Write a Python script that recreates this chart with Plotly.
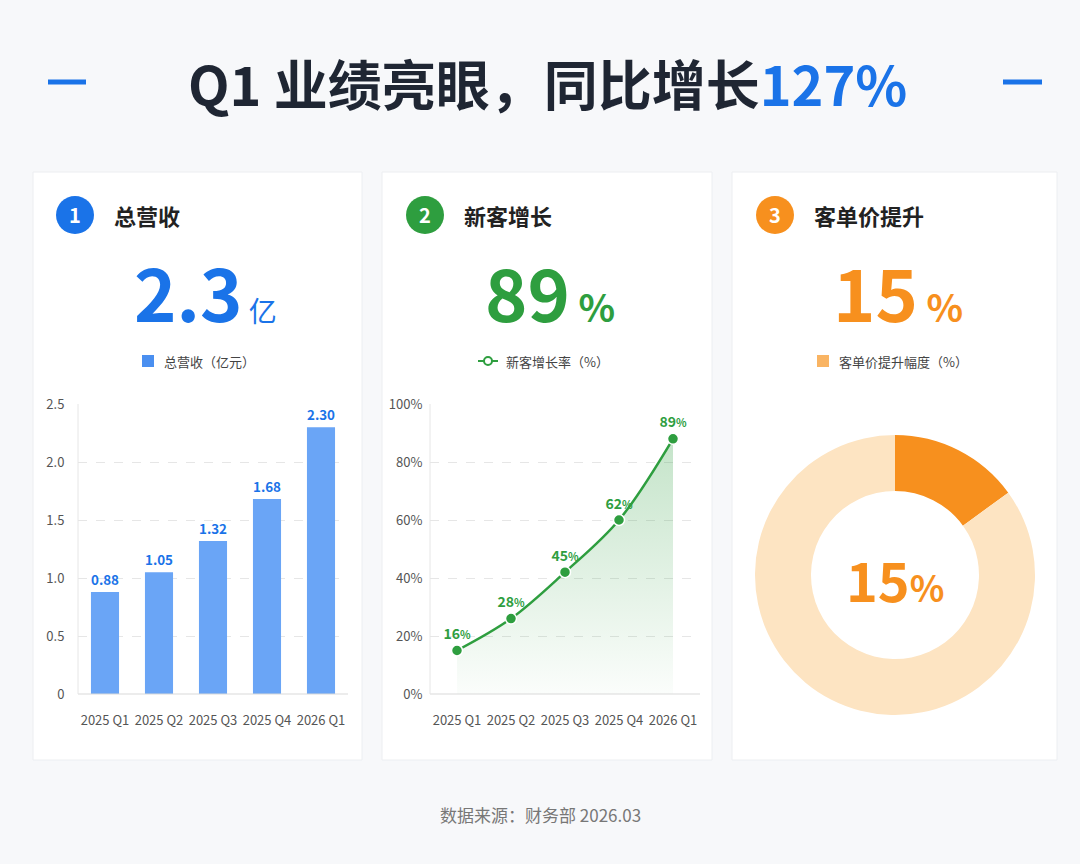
import plotly.graph_objects as go

W, H = 1080, 864
FONT = "Noto Sans CJK SC"

quarters = ["2025 Q1", "2025 Q2", "2025 Q3", "2025 Q4", "2026 Q1"]
revenue = [0.88, 1.05, 1.32, 1.68, 2.30]
revenue_ticks = [0, 0.5, 1.0, 1.5, 2.0, 2.5]
revenue_ticktext = ["0", "0.5", "1.0", "1.5", "2.0", "2.5"]
new_cust = [15, 26, 42, 60, 88]
new_cust_labels = ["16", "28", "45", "62", "89"]
pct_ticks = [0, 20, 40, 60, 80, 100]
pct_ticktext = ["0%", "20%", "40%", "60%", "80%", "100%"]
aov_share = [15, 85]

def px(x): return x / W
def py(y): return 1 - y / H

fig = go.Figure()

fig.add_trace(go.Bar(x=quarters, y=revenue, xaxis="x", yaxis="y",
    marker=dict(color="#6aa5f6", line=dict(width=0)), width=0.52,
    text=[f"<b>{v:.2f}</b>" for v in revenue], textposition="outside",
    textfont=dict(color="#1a73e8", size=14, family=FONT), cliponaxis=False,
    hoverinfo="skip", showlegend=False))

fig.add_trace(go.Scatter(x=quarters, y=new_cust, xaxis="x2", yaxis="y2",
    mode="lines+markers+text", line=dict(color="#2e9e3f", width=2.5, shape="spline"),
    marker=dict(size=11, color="#2e9e3f", line=dict(color="white", width=1.5)),
    fill="tozeroy",
    fillgradient=dict(type="vertical", colorscale=[[0, "rgba(46,158,63,0.02)"], [1, "rgba(46,158,63,0.28)"]]),
    text=[f"<b>{t}</b><span style='font-size:11px'><b>%</b></span>" for t in new_cust_labels],
    textposition="top center", textfont=dict(color="#2e9e3f", size=14, family=FONT),
    cliponaxis=False, hoverinfo="skip", showlegend=False))

fig.add_trace(go.Pie(values=aov_share, hole=0.6, sort=False, direction="clockwise",
    rotation=0, marker=dict(colors=["#f7901e", "#fde4c2"], line=dict(width=0)),
    textinfo="none", hoverinfo="skip", showlegend=False,
    domain=dict(x=[px(755), px(1035)], y=[py(715), py(435)])))

axis_common = dict(showline=False, zeroline=False, automargin=False,
                   tickfont=dict(size=13, color="#555", family=FONT), fixedrange=True,
                   ticks="outside", tickcolor="rgba(0,0,0,0)")
fig.update_layout(
    width=W, height=H, margin=dict(l=0, r=0, t=0, b=0, autoexpand=False),
    paper_bgcolor="#f7f8fa", plot_bgcolor="rgba(0,0,0,0)",
    font=dict(family=FONT),
    xaxis=dict(domain=[px(78), px(348)], anchor="y", range=[-0.5, 4.5], showgrid=False, ticklen=14, **axis_common),
    yaxis=dict(domain=[py(694), py(404)], anchor="x", range=[0, 2.5], tickvals=revenue_ticks, ticklen=10,
               ticktext=revenue_ticktext, showgrid=True, gridcolor="#e6e6e6", griddash="dash", **axis_common),
    xaxis2=dict(domain=[px(430), px(700)], anchor="y2", range=[-0.5, 4.5], showgrid=False, ticklen=14, **axis_common),
    yaxis2=dict(domain=[py(694), py(404)], anchor="x2", range=[0, 100], tickvals=pct_ticks, ticklen=4,
                ticktext=pct_ticktext, showgrid=True, gridcolor="#e6e6e6", griddash="dash", **axis_common),
)

shapes = []
for x0, x1 in [(33, 362), (382, 712), (732, 1057)]:
    shapes.append(dict(type="rect", xref="paper", yref="paper", x0=px(x0), x1=px(x1), y0=py(760), y1=py(172),
                       fillcolor="white", line=dict(color="#eceef1", width=1), layer="below"))
for xa, xb in [(78, 348), (430, 700)]:
    shapes.append(dict(type="line", xref="paper", yref="paper", x0=px(xa), x1=px(xb), y0=py(694), y1=py(694),
                       line=dict(color="#d9d9d9", width=1)))
    shapes.append(dict(type="line", xref="paper", yref="paper", x0=px(xa), x1=px(xa), y0=py(694), y1=py(404),
                       line=dict(color="#e6e6e6", width=1)))
for x0, x1 in [(48, 86), (1003, 1042)]:
    shapes.append(dict(type="line", xref="paper", yref="paper", x0=px(x0), x1=px(x1), y0=py(82), y1=py(82),
                       line=dict(color="#1a73e8", width=5)))
badge_cols = ["#1a73e8", "#2e9e3f", "#f7901e"]
badge_x = [75, 425, 775]
for cx, c in zip(badge_x, badge_cols):
    shapes.append(dict(type="circle", xref="paper", yref="paper", x0=px(cx - 19), x1=px(cx + 19),
                       y0=py(215 + 19), y1=py(215 - 19), fillcolor=c, line=dict(width=0)))
shapes.append(dict(type="rect", xref="paper", yref="paper", x0=px(142), x1=px(154), y0=py(367), y1=py(355),
                   fillcolor="#4a8ff0", line=dict(width=0)))
shapes.append(dict(type="line", xref="paper", yref="paper", x0=px(478), x1=px(498), y0=py(361), y1=py(361),
                   line=dict(color="#2e9e3f", width=2)))
shapes.append(dict(type="circle", xref="paper", yref="paper", x0=px(484), x1=px(492), y0=py(365), y1=py(357),
                   fillcolor="white", line=dict(color="#2e9e3f", width=2)))
shapes.append(dict(type="rect", xref="paper", yref="paper", x0=px(817), x1=px(829), y0=py(367), y1=py(355),
                   fillcolor="#f9b463", line=dict(width=0)))
fig.update_layout(shapes=shapes)

ann = []
def T(x, y, text, size, color, xanchor="center"):
    ann.append(dict(x=px(x), y=py(y), xref="paper", yref="paper", text=text, showarrow=False,
                    xanchor=xanchor, yanchor="middle", font=dict(size=size, color=color, family=FONT)))

T(547, 82, "<b>Q1 业绩亮眼，同比增长<span style='color:#1a73e8'>127%</span></b>", 54, "#1f2633")
for i, (cx, c) in enumerate(zip(badge_x, badge_cols)):
    T(cx, 215, f"<b>{i+1}</b>", 20, "white")
T(112, 215, "<b>总营收</b>", 22, "#222", "left")
T(462, 215, "<b>新客增长</b>", 22, "#222", "left")
T(812, 215, "<b>客单价提升</b>", 22, "#222", "left")
T(205, 290, "<b>2.3</b><span style='font-size:28px'> 亿</span>", 72, "#1a73e8")
T(550, 290, "<b>89</b><span style='font-size:38px'><b> %</b></span>", 72, "#2e9e3f")
T(898, 290, "<b>15</b><span style='font-size:38px'><b> %</b></span>", 72, "#f7901e")
T(162, 361, "总营收（亿元）", 13, "#444", "left")
T(504, 361, "新客增长率（%）", 13, "#444", "left")
T(837, 361, "客单价提升幅度（%）", 13, "#444", "left")
T(895, 578, "<b>15</b><span style='font-size:36px'><b>%</b></span>", 54, "#f7901e")
T(540, 814, "数据来源：财务部 2026.03", 17, "#777")
fig.update_layout(annotations=ann)

fig.write_html("out.html", config={"displayModeBar": False})
with open("out.html", encoding="utf-8") as f:
    html = f.read()
html = html.replace("<head>", "<head><style>html,body{margin:0;padding:0;background:#f7f8fa}</style>", 1)
with open("out.html", "w", encoding="utf-8") as f:
    f.write(html)
